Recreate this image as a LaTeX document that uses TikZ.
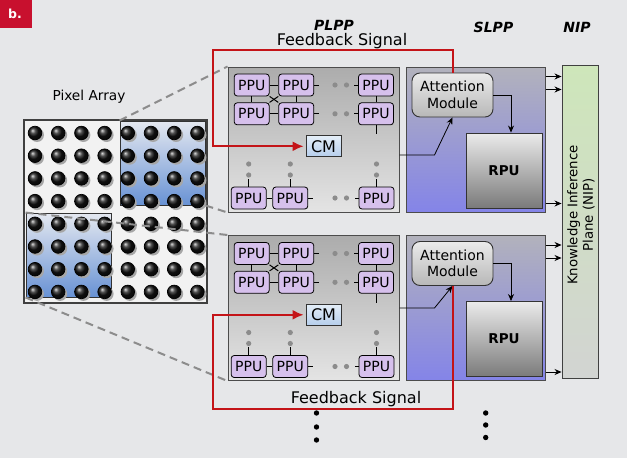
\documentclass[tikz,border=0pt]{standalone}
\usepackage{fontspec}
\setmainfont{DejaVu Sans}
\usepackage{xcolor}
\usepackage{tikz}
\usetikzlibrary{shapes,arrows.meta,calc}

\definecolor{bgcol}{RGB}{230,231,233}
\definecolor{tagred}{RGB}{200,16,46}
\definecolor{fbred}{RGB}{196,20,24}
\definecolor{ppucol}{RGB}{214,192,236}
\definecolor{dotgray}{RGB}{140,140,140}
\definecolor{plpptop}{RGB}{172,172,172}
\definecolor{plppbot}{RGB}{228,228,228}
\definecolor{slpptop}{RGB}{178,178,188}
\definecolor{slppbot}{RGB}{132,132,232}
\definecolor{hltop}{RGB}{228,232,240}
\definecolor{hlbot}{RGB}{104,146,212}
\definecolor{cmtop}{RGB}{228,238,248}
\definecolor{cmbot}{RGB}{182,206,236}
\definecolor{niptop}{RGB}{206,230,186}
\definecolor{nipbot}{RGB}{210,212,210}

\tikzset{
  ppu/.style={draw=black, line width=0.8pt, rounded corners=3pt, fill=ppucol,
    minimum width=35pt, minimum height=22pt, inner sep=0pt, font=\fontsize{14}{14}\selectfont},
  cmbox/.style={draw=black!80, line width=0.8pt, top color=cmtop, bottom color=cmbot,
    minimum width=35pt, minimum height=21pt, inner sep=0pt, font=\fontsize{16}{16}\selectfont},
  plppbox/.style={draw=black!70, line width=1pt, top color=plpptop, bottom color=plppbot,
    minimum width=171pt, minimum height=145pt},
  slppbox/.style={draw=black!70, line width=1pt, top color=slpptop, bottom color=slppbot,
    minimum width=139pt, minimum height=145pt},
  attbox/.style={draw=black!80, line width=0.9pt, rounded corners=8pt, top color=white!92!black,
    bottom color=black!28, minimum width=81pt, minimum height=44pt, inner sep=0pt, align=center,
    font=\fontsize{14}{16.5}\selectfont},
  rpubox/.style={draw=black!80, line width=0.9pt, top color=black!8, bottom color=black!52,
    minimum width=76pt, minimum height=75pt, font=\fontsize{13.5}{13.5}\selectfont\bfseries},
  nipbox/.style={draw=black!75, line width=0.9pt, top color=niptop, bottom color=nipbot,
    minimum width=36pt, minimum height=313pt},
  pixbox/.style={draw=black!75, line width=1.2pt, fill=white!95!black, minimum width=183pt,
    minimum height=183pt},
  hlbox/.style={draw=black!80, line width=0.9pt, top color=hltop, bottom color=hlbot,
    minimum width=85pt, minimum height=84pt},
  head/.style={font=\fontsize{14}{14}\selectfont\bfseries\itshape},
  lbl/.style={font=\fontsize{16}{16}\selectfont},
  link/.style={line width=1pt, black},
  arr/.style={line width=0.8pt, -{Stealth[length=7pt,width=6pt]}},
  fb/.style={draw=fbred, line width=2pt, -{Latex[length=11pt,width=10pt]}, shorten >=2pt},
  dashline/.style={draw=dotgray, line width=2pt, dash pattern=on 8pt off 5pt}
}

\begin{document}
\begin{tikzpicture}[x=1pt,y=-1pt]
  \fill[bgcol] (0,0) rectangle (627,458);
  \useasboundingbox (0,0) rectangle (627,458);
  % tag
  \fill[tagred] (0,0) rectangle (32,28);
  \node[text=white, font=\fontsize{12.5}{12.5}\selectfont\bfseries] (tag) at (15,14) {b.};

  % pixel array
  \node[font=\fontsize{13.7}{13.7}\selectfont] (pixlbl) at (89,97) {Pixel Array};
  \node[pixbox] (pix) at (115.5,211.5) {};
  \node[hlbox] (hlt) at (162.5,163) {};
  \node[hlbox] (hlb) at (68.5,255) {};
  \foreach \i in {0,...,7}
    \foreach \j in {0,...,7}{
      \fill[black!35] (35+23.2*\i+2,133+22.7*\j+2) circle (7pt);
      \shadedraw[ball color=black!92, draw=black, line width=0.7pt] (35+23.2*\i,133+22.7*\j) circle (6.8pt);
    }

  \node[nipbox] (nip) at (580,221.5) {};
  \node[rotate=90, align=center, font=\fontsize{13.3}{15.5}\selectfont] (niptxt) at (581,215)
    {Knowledge Inference\\Plane (NIP)};

  % two channels
  \foreach \p/\dy/\fy in {t/0/-15.5, b/168.5/0}{
    \node[plppbox] (plpp\p) at (313.5,139.5+\dy) {};
    \node[ppu] (ppu11\p) at (251.7,85+\dy) {PPU};
    \node[ppu] (ppu12\p) at (296.2,85+\dy) {PPU};
    \node[ppu] (ppu13\p) at (376,85+\dy) {PPU};
    \node[ppu] (ppu21\p) at (251.7,113.8+\dy) {PPU};
    \node[ppu] (ppu22\p) at (296.2,113.8+\dy) {PPU};
    \node[ppu] (ppu23\p) at (376,113.8+\dy) {PPU};
    \node[ppu] (ppu31\p) at (248.7,198+\dy) {PPU};
    \node[ppu] (ppu32\p) at (290.3,198+\dy) {PPU};
    \node[ppu] (ppu33\p) at (376.5,198+\dy) {PPU};
    \node[cmbox] (cm\p) at (323.5,146.3+\dy) {CM};
    % mesh links
    \draw[link] (ppu11\p) -- (ppu12\p);
    \draw[link] (ppu21\p) -- (ppu22\p);
    \draw[link] (ppu11\p) -- (ppu21\p);
    \draw[link] (ppu12\p) -- (ppu22\p);
    \draw[link] (ppu13\p) -- (ppu23\p);
    \draw[link] (ppu31\p) -- (ppu32\p);
    \draw[link] (ppu11\p.south east) -- (ppu22\p.north west);
    \draw[link] (ppu12\p.south west) -- (ppu21\p.north east);
    \foreach \a/\b in {12/13, 22/23, 32/33}{
      \draw[link] (ppu\a\p.east) -- ++(5,0);
      \draw[link] (ppu\b\p.west) -- ++(-4,0);
    }
    \draw[link] (ppu23\p.south) -- ++(0,9);
    \foreach \c in {31,32,33}
      \draw[link] (ppu\c\p.north) -- ++(0,-8);
    \foreach \y in {85,113.8,198}
      \foreach \x in {335,346.5}
        \fill[dotgray] (\x,\y+\dy) circle (2.6pt);
    \foreach \x in {248.7,290.3,376.5}
      \foreach \y in {164,175}
        \fill[dotgray] (\x,\y+\dy) circle (2.6pt);
    % second level
    \node[slppbox] (slpp\p) at (475.5,139.5+\dy) {};
    \node[attbox] (att\p) at (452.5,95+\dy) {Attention\\Module};
    \node[rpubox] (rpu\p) at (504,170.5+\dy) {RPU};
    \draw[arr] (att\p.east) -| ([xshift=7pt]rpu\p.north);
    \draw[arr] ([yshift=\fy pt]plpp\p.east) -- ++(35,0) -- (att\p.south);
    \path ([yshift=-10pt]slpp\p.north east) coordinate (sa\p)
          ([yshift=-23pt]slpp\p.north east) coordinate (sb\p)
          ([yshift=9pt]slpp\p.south east) coordinate (sc\p);
    \foreach \s in {sa,sb,sc}
      \draw[arr] (\s\p) -- (\s\p -| nip.west);
  }

  % zoom lines
  \draw[dashline] (hlt.north west) -- (plppt.north west);
  \draw[dashline] (hlt.south east) -- (plppt.south west);
  \draw[dashline] (hlb.north west) -- (plppb.north west);
  \draw[dashline] (hlb.south west) -- (plppb.south west);

  % feedback
  \coordinate (fbt) at (212.5,49.5);
  \coordinate (fbb) at (212.5,409);
  \draw[fb] (attt.north) |- (fbt) |- (cmt.west);
  \draw[fb] (attb.south) |- (fbb) |- (cmb.west);
  \node[lbl, inner sep=1pt] (fbtlbl) at (342,41) {Feedback Signal};
  \node[lbl] (fbblbl) at (356,399) {Feedback Signal};

  \node[head, inner sep=1pt] (hplpp) at (334,25.5) {PLPP};
  \node[head] (hslpp) at (493.5,27) {SLPP};
  \node[head] (hnip) at (577,27) {NIP};

  \foreach \y in {413,427,440}
    \fill (316.5,\y) circle (2.7pt);
  \foreach \y in {413,425,437.5}
    \fill (485.7,\y) circle (2.7pt);
\end{tikzpicture}
\end{document}
